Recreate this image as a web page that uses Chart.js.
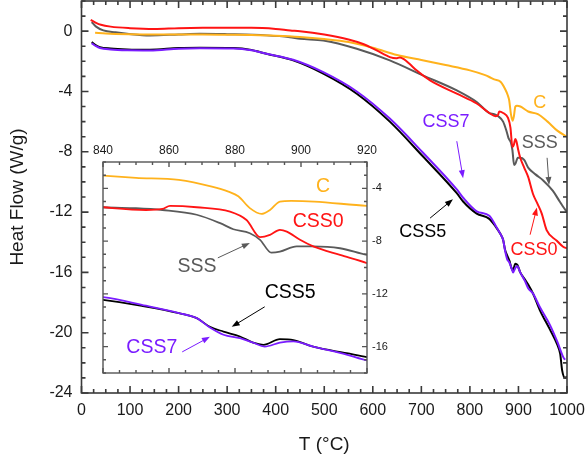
<!DOCTYPE html>
<html>
<head>
<meta charset="utf-8">
<script src="https://cdn.jsdelivr.net/npm/chart.js@4.4.0/dist/chart.umd.min.js"></script>
<style>
  html, body { margin: 0; padding: 0; background: #fff; }
  #contenedor { position: relative; width: 588px; height: 461px; }
  #grafica { position: absolute; left: 0; top: 0; }
  #inserto { position: absolute; left: 88px; top: 138px; }
</style>
</head>
<body>
<div id="contenedor">
  <canvas id="grafica" width="588" height="461"></canvas>
  <canvas id="inserto" width="310" height="240"></canvas>
</div>
<script>
// Datos (T en °C, flujo de calor en W/g)
const tC = [28, 50, 100, 150, 200, 250, 300, 350, 400, 450, 500, 550, 600, 650, 700, 750, 800, 830, 840, 850, 863, 873, 878, 881, 884.5, 888, 890.6, 893.6, 897, 904, 920, 940, 960, 980, 1000];
const hfC = [-0.1, -0.15, -0.2, -0.22, -0.22, -0.22, -0.24, -0.26, -0.3, -0.38, -0.52, -0.72, -1.1, -1.58, -1.92, -2.25, -2.6, -2.9, -3.04, -3.2, -3.36, -3.87, -4.25, -4.6, -5.5, -5.94, -5.64, -5.0, -4.95, -5.0, -5.33, -5.5, -6.0, -6.6, -7.0];

const tCSS0 = [19, 30, 40, 60, 100, 150, 200, 250, 300, 350, 400, 430, 450, 500, 550, 580, 608, 635, 648, 656, 664, 675, 690, 718, 773, 814, 840, 853, 858, 860.3, 868.4, 878.5, 883.5, 887.6, 890.6, 893.6, 895.7, 899.7, 903.7, 911.8, 920, 930, 940, 948, 958, 979, 992, 1000];
const hfCSS0 = [0.75, 0.55, 0.42, 0.3, 0.2, 0.15, 0.2, 0.22, 0.22, 0.22, 0.15, 0.05, 0.0, -0.22, -0.55, -0.85, -1.28, -1.72, -1.8, -1.74, -1.86, -2.15, -2.6, -3.27, -4.15, -4.8, -5.43, -5.64, -5.56, -5.33, -5.43, -5.76, -6.4, -7.7, -7.53, -7.15, -7.28, -7.9, -8.4, -9.05, -9.67, -10.8, -11.5, -12.1, -13.2, -13.9, -14.3, -14.4];

const tSSS = [21, 30, 45, 70, 94, 141, 200, 244, 300, 381, 429, 450, 498, 567, 635, 703, 773, 814, 840, 850, 858, 868.4, 875.5, 879.5, 884.5, 887.6, 891, 893.6, 898.7, 903.6, 911.8, 920, 935, 951, 971, 985, 992, 1000];
const hfSSS = [0.6, 0.3, 0.05, -0.08, -0.17, -0.28, -0.22, -0.17, -0.2, -0.28, -0.4, -0.5, -0.62, -1.17, -1.94, -2.93, -3.93, -4.7, -5.43, -5.5, -5.64, -6.0, -6.64, -7.1, -7.4, -7.9, -8.87, -8.8, -8.4, -8.4, -8.54, -9.05, -9.5, -9.9, -10.6, -11.3, -11.65, -12.0];

const tCSS5 = [21, 30, 38, 60, 94, 141, 200, 244, 313, 350, 381, 436, 498, 567, 635, 703, 773, 786, 814, 840, 853, 863, 868.4, 872.4, 876.5, 881.5, 885.5, 888.6, 893.6, 897.7, 903.7, 913.8, 920, 930, 944, 965, 980, 986, 990, 996, 1000];
const hfCSS5 = [-0.73, -0.95, -1.06, -1.15, -1.21, -1.23, -1.12, -1.1, -1.12, -1.25, -1.5, -1.94, -2.82, -4.15, -6.0, -8.3, -10.75, -11.3, -12.1, -12.45, -12.96, -13.46, -13.84, -14.5, -14.86, -15.23, -15.7, -15.86, -15.43, -15.5, -16.0, -16.5, -16.8, -17.4, -18.5, -19.8, -20.8, -21.4, -22.5, -23.0, -22.9];

const tCSS7 = [21, 30, 38, 60, 94, 141, 200, 244, 313, 350, 381, 436, 498, 567, 635, 703, 773, 786, 814, 840, 853, 863, 868.4, 872.4, 876.5, 881.5, 885.5, 889, 893.6, 897.7, 903.7, 913.8, 920, 930, 944, 965, 980, 992, 996];
const hfCSS7 = [-0.8, -1.0, -1.12, -1.22, -1.27, -1.28, -1.16, -1.13, -1.15, -1.27, -1.5, -1.9, -2.72, -4.0, -5.8, -8.05, -10.5, -11.05, -11.95, -12.25, -12.9, -13.46, -13.84, -14.55, -15.1, -15.36, -15.7, -16.0, -15.7, -15.6, -16.0, -16.6, -17.05, -17.4, -18.3, -19.5, -20.6, -21.6, -21.8];

// Etiquetas de los ejes
const ticksT = [0, 100, 200, 300, 400, 500, 600, 700, 800, 900, 1000];
const ticksHF = [-24, -20, -16, -12, -8, -4, 0];
const ticksTInserto = [840, 860, 880, 900, 920];
const ticksHFInserto = [-16, -12, -8, -4];

const FUENTE = "'Liberation Sans', Arial, sans-serif";
const colores = {
    C: '#ffb21c',
    CSS0: '#ff1414',
    SSS: '#5a5a5a',
    CSS5: '#000000',
    CSS7: '#7a1cff'
};

const puntos = (t, hf) => t.map((v, i) => ({ x: v, y: hf[i] }));

const series = (grosor) => [
    { label: 'CSS7', data: puntos(tCSS7, hfCSS7), borderColor: colores.CSS7 },
    { label: 'CSS0', data: puntos(tCSS0, hfCSS0), borderColor: colores.CSS0 },
    { label: 'C', data: puntos(tC, hfC), borderColor: colores.C },
    { label: 'SSS', data: puntos(tSSS, hfSSS), borderColor: colores.SSS },
    { label: 'CSS5', data: puntos(tCSS5, hfCSS5), borderColor: colores.CSS5 }
].map(d => ({ ...d, borderWidth: grosor, pointRadius: 0, cubicInterpolationMode: 'monotone', fill: false }));

// Marcas hacia adentro en los cuatro lados + marco
const marcasInternas = {
    id: 'marcasInternas',
    beforeDatasetsDraw(chart, args, opts) {
        if (!opts.fondo) return;
        const { ctx, chartArea: a } = chart;
        ctx.save();
        ctx.fillStyle = opts.fondo;
        ctx.fillRect(a.left, a.top, a.right - a.left, a.bottom - a.top);
        ctx.restore();
    },
    afterDatasetsDraw(chart, args, opts) {
        const { ctx, chartArea: a, scales: { x, y } } = chart;
        ctx.save();
        ctx.strokeStyle = opts.color;
        ctx.lineWidth = opts.grosor;
        ctx.beginPath();
        for (let v = x.min; v <= x.max + 1e-6; v += opts.xMenor) {
            const px = x.getPixelForValue(v);
            const l = Math.abs(v % opts.xMayor) < 1e-6 ? opts.largo : opts.corto;
            ctx.moveTo(px, a.bottom); ctx.lineTo(px, a.bottom - l);
            ctx.moveTo(px, a.top); ctx.lineTo(px, a.top + l);
        }
        for (let v = Math.ceil(y.min); v <= y.max + 1e-6; v += opts.yMenor) {
            const py = y.getPixelForValue(v);
            const l = Math.abs(v % opts.yMayor) < 1e-6 ? opts.largo : opts.corto;
            ctx.moveTo(a.left, py); ctx.lineTo(a.left + l, py);
            ctx.moveTo(a.right, py); ctx.lineTo(a.right - l, py);
        }
        ctx.stroke();
        ctx.strokeRect(a.left, a.top, a.right - a.left, a.bottom - a.top);
        ctx.restore();
    }
};

// Textos y flechas de las series
const notas = {
    id: 'notas',
    afterDatasetsDraw(chart, args, opts) {
        const { ctx, scales: { x, y } } = chart;
        ctx.save();
        ctx.font = opts.tamano + 'px ' + FUENTE;
        ctx.textAlign = 'center';
        ctx.textBaseline = 'middle';
        opts.lista.forEach(n => {
            ctx.fillStyle = n.color;
            ctx.fillText(n.texto, x.getPixelForValue(n.t), y.getPixelForValue(n.v));
            if (n.flecha) {
                const x0 = x.getPixelForValue(n.flecha[0]), y0 = y.getPixelForValue(n.flecha[1]);
                const x1 = x.getPixelForValue(n.flecha[2]), y1 = y.getPixelForValue(n.flecha[3]);
                const ang = Math.atan2(y1 - y0, x1 - x0);
                ctx.strokeStyle = n.color;
                ctx.lineWidth = 1;
                ctx.beginPath();
                ctx.moveTo(x0, y0);
                ctx.lineTo(x1 - 6 * Math.cos(ang), y1 - 6 * Math.sin(ang));
                ctx.stroke();
                ctx.beginPath();
                ctx.moveTo(x1, y1);
                ctx.lineTo(x1 - 8 * Math.cos(ang) + 3 * Math.sin(ang), y1 - 8 * Math.sin(ang) - 3 * Math.cos(ang));
                ctx.lineTo(x1 - 8 * Math.cos(ang) - 3 * Math.sin(ang), y1 - 8 * Math.sin(ang) + 3 * Math.cos(ang));
                ctx.closePath();
                ctx.fill();
            }
        });
        ctx.restore();
    }
};

const notasPrincipal = [
    { texto: 'C', color: colores.C, t: 944, v: -4.8 },
    { texto: 'SSS', color: colores.SSS, t: 944, v: -7.45, flecha: [959, -8.4, 963, -10.2] },
    { texto: 'CSS0', color: colores.CSS0, t: 932, v: -14.5, flecha: [924, -13.5, 938, -11.7] },
    { texto: 'CSS7', color: colores.CSS7, t: 751, v: -6.05, flecha: [773, -7.3, 786, -9.75] },
    { texto: 'CSS5', color: colores.CSS5, t: 703, v: -13.3, flecha: [718, -12.4, 765, -11.15] }
];

const notasInserto = [
    { texto: 'C', color: colores.C, t: 906.7, v: -3.9 },
    { texto: 'CSS0', color: colores.CSS0, t: 905.2, v: -6.55 },
    { texto: 'SSS', color: colores.SSS, t: 868.5, v: -9.95, flecha: [874.8, -9.27, 884.5, -8.14] },
    { texto: 'CSS5', color: colores.CSS5, t: 896.7, v: -11.9, flecha: [889, -12.98, 879, -14.5] },
    { texto: 'CSS7', color: colores.CSS7, t: 854.8, v: -16.1, flecha: [864, -16.4, 872.4, -15.26] }
];

const fijarTicks = (lista) => (s) => { s.ticks = lista.map(v => ({ value: v })); };
// tamano fijo de cada eje, sin relleno extra por etiquetas que sobresalen
const fijarAncho = (w) => (s) => { s.width = w; s.paddingTop = 0; s.paddingBottom = 0; };
const fijarAlto = (h) => (s) => { s.height = h; s.paddingLeft = 0; s.paddingRight = 0; };
const texto = (v) => String(v);

// GRAFICA PRINCIPAL
new Chart(document.getElementById('grafica'), {
    type: 'line',
    data: { datasets: series(2) },
    plugins: [marcasInternas, notas],
    options: {
        responsive: false,
        animation: false,
        devicePixelRatio: 1,
        layout: { padding: { left: 0, top: 1, right: 21, bottom: 0 } },
        plugins: {
            legend: { display: false },
            tooltip: { enabled: false },
            marcasInternas: { color: '#3a3a3a', grosor: 1.6, xMenor: 25, xMayor: 100, yMenor: 1, yMayor: 4, largo: 7, corto: 4 },
            notas: { tamano: 18, lista: notasPrincipal }
        },
        scales: {
            x: {
                type: 'linear', min: 0, max: 1000,
                afterBuildTicks: fijarTicks(ticksT),
                afterFit: fijarAlto(68),
                grid: { display: false, drawTicks: false },
                border: { display: false },
                ticks: { padding: 8, autoSkip: false, maxRotation: 0, callback: texto, color: '#1a1a1a', font: { family: FUENTE, size: 16 } },
                title: { display: true, text: 'T (°C)', color: '#1a1a1a', font: { family: FUENTE, size: 19 }, padding: { top: 0, bottom: 5 } }
            },
            y: {
                type: 'linear', min: -24, max: 2,
                afterBuildTicks: fijarTicks(ticksHF),
                afterFit: fijarAncho(81.5),
                grid: { display: false, drawTicks: false },
                border: { display: false },
                ticks: { padding: 9, callback: texto, color: '#1a1a1a', font: { family: FUENTE, size: 16 } },
                title: { display: true, text: 'Heat Flow (W/g)', color: '#1a1a1a', font: { family: FUENTE, size: 19 }, padding: { top: 6, bottom: 0 } }
            }
        }
    }
});

// GRAFICA INSERTADA (ampliacion 840-920 °C)
new Chart(document.getElementById('inserto'), {
    type: 'line',
    data: { datasets: series(1.8) },
    plugins: [marcasInternas, notas],
    options: {
        responsive: false,
        animation: false,
        devicePixelRatio: 1,
        layout: { padding: { left: 15, top: 0, right: 0, bottom: 5 } },
        plugins: {
            legend: { display: false },
            tooltip: { enabled: false },
            marcasInternas: { fondo: '#ffffff', color: '#555555', grosor: 1.4, xMenor: 5, xMayor: 20, yMenor: 1, yMayor: 4, largo: 5, corto: 3 },
            notas: { tamano: 19.5, lista: notasInserto }
        },
        scales: {
            x: {
                type: 'linear', position: 'top', min: 840, max: 920,
                afterBuildTicks: fijarTicks(ticksTInserto),
                afterFit: fijarAlto(24),
                grid: { display: false, drawTicks: false },
                border: { display: false },
                ticks: { padding: 4, autoSkip: false, maxRotation: 0, callback: texto, color: '#1a1a1a', font: { family: FUENTE, size: 12 } }
            },
            y: {
                type: 'linear', position: 'right', min: -18, max: -2,
                afterBuildTicks: fijarTicks(ticksHFInserto),
                afterFit: fijarAncho(31),
                grid: { display: false, drawTicks: false },
                border: { display: false },
                ticks: { padding: 5, callback: texto, color: '#1a1a1a', font: { family: FUENTE, size: 11 } }
            }
        }
    }
});
</script>
</body>
</html>
